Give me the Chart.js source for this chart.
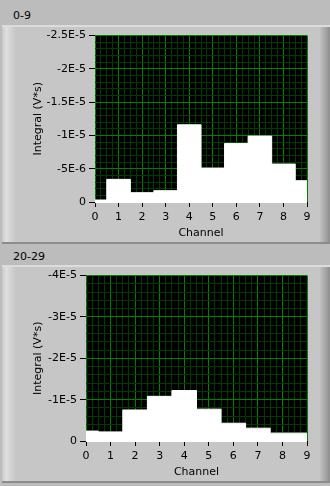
<!DOCTYPE html>
<html>
<head>
<meta charset="utf-8">
<script src="https://cdn.jsdelivr.net/npm/chart.js@4"></script>
<style>
  html, body { margin: 0; padding: 0; }
  body { width: 330px; height: 486px; background: #bcbcbc; position: relative; overflow: hidden;
         font-family: "DejaVu Sans", sans-serif; }
  .label { position: absolute; left: 13px; font-size: 11px; color: #000; }
  .panel { position: absolute; left: 2px; width: 328px; background: #c6c6c6;
           border-top: 2px solid #dcdcdc; border-bottom: 2px solid #8c8c8c; box-sizing: border-box; }
  .panel .lbev { position: absolute; left: 0; top: 0; bottom: 0; width: 14px;
           background: linear-gradient(to right, #c8c8c8, #e0e0e0 30%, #d0d0d0 70%, #c6c6c6); }
  .panel .rbev { position: absolute; right: 0; top: 0; bottom: 0; width: 10px;
           background: linear-gradient(to right, #c0c0c0, #a8a8a8 50%, #8e8e8e); }
  canvas { position: absolute; left: 0; }
</style>
</head>
<body>
<div class="label" style="top:9px">0-9</div>
<div class="panel" style="top:25px;height:219px"><div class="lbev"></div><div class="rbev"></div></div>
<div class="label" style="top:250px">20-29</div>
<div class="panel" style="top:265px;height:218px"><div class="lbev"></div><div class="rbev"></div></div>
<div style="position:absolute;left:0;top:26px;width:318px;height:217px"><canvas id="c1"></canvas></div>
<div style="position:absolute;left:0;top:266px;width:318px;height:216px"><canvas id="c2"></canvas></div>
<script>
// channels 0..9
const channels = [0, 1, 2, 3, 4, 5, 6, 7, 8, 9];

// integral per channel (V*s)
const integral0to9 = [-3e-7, -3.4e-6, -1.4e-6, -1.7e-6, -1.16e-5, -5.1e-6, -8.8e-6, -9.9e-6, -5.7e-6, -3.2e-6];
const integral20to29 = [-2.4e-6, -2.2e-6, -7.5e-6, -1.08e-5, -1.22e-5, -7.7e-6, -4.3e-6, -3.1e-6, -1.9e-6, -1.9e-6];

// y axis ranges and tick spacing
const yRange1 = { min: -2.5e-5, max: 0, minor: 1e-6, major: 5e-6 };
const yRange2 = { min: -4e-5, max: 0, minor: 2e-6, major: 1e-5 };

const MAJOR = '#008200';
const MINOR = '#003c00';
const FONT = { family: 'DejaVu Sans', size: 11 };

function isMult(v, step) {
  const r = v / step;
  return Math.abs(r - Math.round(r)) < 1e-6;
}

function fmtE(v) {
  if (Math.abs(v) < 1e-12) return '0';
  const e = Math.floor(Math.log10(Math.abs(v)) + 1e-9);
  const m = Math.round(v / Math.pow(10, e) * 100) / 100;
  return m + 'E' + e;
}

function makeChart(id, values, range, yWidth) {
  const pts = channels.map((c, i) => ({ x: c, y: values[i] }));
  new Chart(document.getElementById(id), {
    type: 'line',
    data: {
      datasets: [{
        data: pts,
        stepped: 'middle',
        borderColor: '#ffffff',
        borderWidth: 1,
        backgroundColor: '#ffffff',
        fill: 'origin',
        pointRadius: 0
      }]
    },
    options: {
      responsive: true,
      maintainAspectRatio: false,
      animation: false,
      layout: { padding: { top: 9, right: 11, left: 0, bottom: 0 } },
      plugins: { legend: { display: false }, tooltip: { enabled: false } },
      scales: {
        x: {
          type: 'linear',
          min: 0,
          max: 9,
          border: { display: false },
          afterFit: s => { s.height = 41; },
          ticks: {
            stepSize: 0.25,
            autoSkip: false,
            maxRotation: 0,
            color: '#000',
            font: FONT,
            padding: 4,
            callback: v => isMult(v, 1) ? String(Math.round(v)) : ''
          },
          grid: {
            color: c => isMult(c.tick.value, 1) ? MAJOR : MINOR,
            tickColor: c => isMult(c.tick.value, 1) ? '#000' : 'rgba(0,0,0,0)',
            tickLength: 5,
            lineWidth: 1
          },
          title: {
            display: true,
            text: 'Channel',
            color: '#000',
            font: FONT,
            padding: { top: 0, bottom: 3 }
          }
        },
        y: {
          type: 'linear',
          reverse: true,
          min: range.min,
          max: range.max,
          border: { display: false },
          afterFit: s => { s.width = yWidth; },
          ticks: {
            stepSize: range.minor,
            autoSkip: false,
            color: '#000',
            font: FONT,
            padding: 3,
            callback: v => isMult(v, range.major) ? fmtE(v) : ''
          },
          grid: {
            color: c => Math.abs(c.tick.value) < 1e-12 ? '#ffffff'
              : (isMult(c.tick.value, range.major) ? MAJOR : MINOR),
            tickColor: c => isMult(c.tick.value, range.major) ? '#000' : 'rgba(0,0,0,0)',
            tickLength: 6,
            lineWidth: 1
          },
          title: {
            display: true,
            text: 'Integral (V*s)',
            color: '#000',
            font: FONT,
            padding: { top: 32, bottom: 0 }
          }
        }
      }
    },
    plugins: [{
      id: 'plotBg',
      beforeDraw(chart) {
        const a = chart.chartArea;
        const ctx = chart.ctx;
        ctx.save();
        ctx.fillStyle = '#000';
        ctx.fillRect(a.left, a.top, a.right - a.left, a.bottom - a.top);
        ctx.restore();
      }
    }]
  });
}

makeChart('c1', integral0to9, yRange1, 95);
makeChart('c2', integral20to29, yRange2, 86);
</script>
</body>
</html>
